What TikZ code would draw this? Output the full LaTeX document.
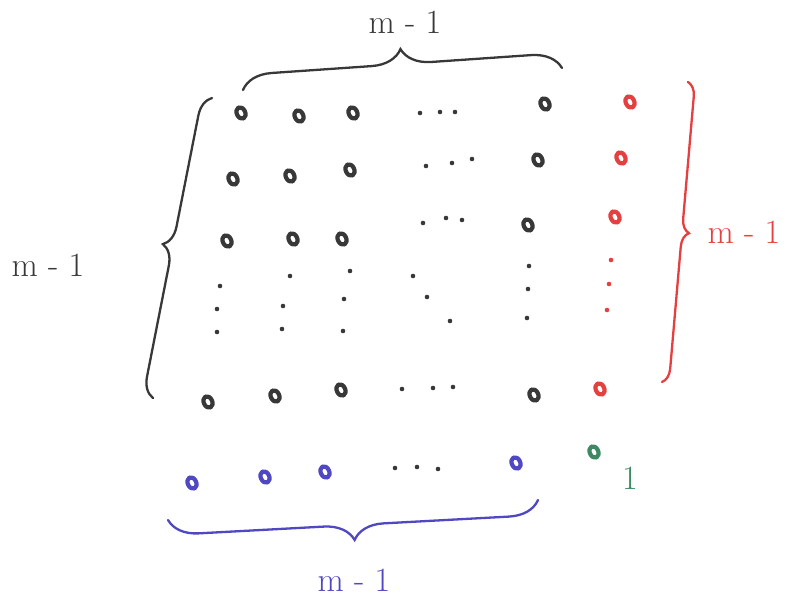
\documentclass[tikz,border=0pt]{standalone}
\usepackage{xcolor}
\usepackage{tikz}
\usetikzlibrary{shapes.geometric, decorations.pathreplacing}

\definecolor{inkblack}{HTML}{383838}
\definecolor{inkred}{HTML}{E5403F}
\definecolor{inkblue}{HTML}{4F48C2}
\definecolor{inkgreen}{HTML}{3D8A62}

\begin{document}
\begin{tikzpicture}[x=1pt, y=-1pt,
        pt/.style={ellipse, draw=#1, line width=4.2pt, line join=round,
                   minimum width=8.5pt, minimum height=12pt, inner sep=0pt,
                   rotate=25},
        pt/.default=inkblack,
        ell/.style={circle, fill=#1, inner sep=0pt, minimum size=4.6pt},
        ell/.default=inkblack,
        curly/.style={decorate, decoration={brace, amplitude=#1},
                      line width=2.3pt, line cap=round},
        lbl/.style={font=\fontsize{34}{38}\selectfont}]
      \useasboundingbox (0,0) rectangle (787,599);
      % black block
      \node[pt] (a11) at (241,113) {};
      \node[pt] (a12) at (299,116) {};
      \node[pt] (a13) at (353,113) {};
      \node[pt] (a1n) at (545,104) {};
      \node[pt] (a21) at (233,179) {};
      \node[pt] (a22) at (290,176) {};
      \node[pt] (a23) at (350,170) {};
      \node[pt] (a2n) at (538,160) {};
      \node[pt] (a31) at (227,241) {};
      \node[pt] (a32) at (293,239) {};
      \node[pt] (a33) at (342,239) {};
      \node[pt] (a3n) at (528,225) {};
      \node[pt] (an1) at (208,402) {};
      \node[pt] (an2) at (275,396) {};
      \node[pt] (an3) at (341,390) {};
      \node[pt] (ann) at (534,395) {};
      % red column
      \node[pt=inkred] (r1) at (630,102) {};
      \node[pt=inkred] (r2) at (621,158) {};
      \node[pt=inkred] (r3) at (615,217) {};
      \node[pt=inkred] (rn) at (600,389) {};
      % blue row and green corner
      \node[pt=inkblue] (b1) at (192,483) {};
      \node[pt=inkblue] (b2) at (265,477) {};
      \node[pt=inkblue] (b3) at (325,472) {};
      \node[pt=inkblue] (bn) at (516,463) {};
      \node[pt=inkgreen] (g) at (594,452) {};
      \node[text=inkgreen, lbl] (one) at (630,478) {1};
      % dots
      \foreach \x/\y in {420/113, 440/112, 455/112, 426/166, 452/163, 472/159,
                         423/223, 446/218, 462/220, 402/389, 433/388, 453/387,
                         395/468, 417/467, 438/469}
        \node[ell] at (\x,\y) {};
      \foreach \x/\y in {220/286, 217/309, 217/332, 290/276, 283/306, 282/329,
                         350/271, 344/299, 343/331, 413/276, 427/297, 450/321,
                         529/266, 528/289, 527/318}
        \node[ell] at (\x,\y) {};
      \foreach \y/\x in {260/611, 284/609, 310/607}
        \node[ell=inkred] at (\x,\y) {};
      % braces
      \draw[curly=30pt, draw=inkblack] (243,90) -- (562,68);
      \node[lbl, text=inkblack] (top) at (405,22) {m - 1};
      \draw[curly=20pt, draw=inkblack] (153,398) -- (212,98);
      \node[lbl, text=inkblack] (left) at (48,265) {m - 1};
      \draw[curly=14pt, draw=inkred] (688,82) -- (662,382);
      \node[lbl, text=inkred] (right) at (744,232) {m - 1};
      \draw[curly=30pt, draw=inkblue] (538,500) -- (168,520);
      \node[lbl, text=inkblue] (bottom) at (354,580) {m - 1};
    \end{tikzpicture}
\end{document}
